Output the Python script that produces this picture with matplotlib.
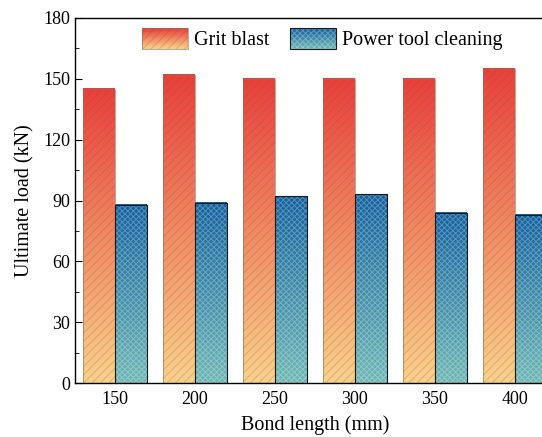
import numpy as np
import matplotlib
matplotlib.use("Agg")
import matplotlib.pyplot as plt
from matplotlib.patches import Rectangle
from matplotlib.legend_handler import HandlerBase
from matplotlib.colors import to_rgb
from matplotlib.ticker import MultipleLocator

plt.rcParams['font.family'] = ['Liberation Serif', 'DejaVu Serif']
plt.rcParams['hatch.linewidth'] = 0.7

# data
bond_length = ['150', '200', '250', '300', '350', '400']
grit_blast = [145, 152, 150, 150, 150, 155]
power_tool = [88, 89, 92, 93, 84, 83]

# colours: (top, bottom)
grit_cols = ('#e8403b', '#f9d28c')
power_cols = ('#11609f', '#6fb8b5')


def grad(top, bottom, n=256):
    t = np.linspace(0, 1, n)[:, None]
    a = np.array(to_rgb(top))
    b = np.array(to_rgb(bottom))
    return (a * (1 - t) + b * t)[:, None, :]


class Key:
    def __init__(self, cols, hatch, hcol, ecol):
        self.cols = cols
        self.hatch = hatch
        self.hcol = hcol
        self.ecol = ecol


class GradHandler(HandlerBase):
    def create_artists(self, legend, h, xd, yd, width, height, fontsize, trans):
        arts = []
        n = 30
        top = np.array(to_rgb(h.cols[0]))
        bot = np.array(to_rgb(h.cols[1]))
        for i in range(n):
            t = i / (n - 1)
            c = bot * (1 - t) + top * t
            r = Rectangle((-xd, -yd + height * i / n), width, height / n + 0.3,
                          facecolor=c, edgecolor='none', transform=trans)
            arts.append(r)
        r = Rectangle((-xd, -yd), width, height, facecolor='none', hatch=h.hatch,
                      edgecolor=h.hcol, linewidth=0, transform=trans)
        arts.append(r)
        r = Rectangle((-xd, -yd), width, height, facecolor='none',
                      edgecolor=h.ecol, linewidth=0.8, transform=trans)
        arts.append(r)
        return arts


fig = plt.figure(figsize=(5.42, 4.37), dpi=100)
ax = fig.add_axes([75 / 542, 54 / 437, 480 / 542, 365 / 437])

x = np.arange(len(bond_length))
w = 0.4

grit_h = (0.6, 0.3, 0.1, 0.25)
grit_e = (0.55, 0.45, 0.4, 0.6)
pow_h = (1, 1, 1, 0.28)
pow_e = '#1a1a1a'


def draw(xpos, vals, cols, hatch, hcol, ecol):
    for xi, v in zip(xpos, vals):
        ax.imshow(grad(*cols), extent=[xi - w / 2, xi + w / 2, 0, v],
                  aspect='auto', zorder=2, interpolation='bilinear')
    ax.bar(xpos, vals, w, facecolor='none', hatch=hatch, edgecolor=hcol,
           linewidth=0, zorder=3)
    ax.bar(xpos, vals, w, facecolor='none', edgecolor=ecol,
           linewidth=0.8, zorder=4)


draw(x - w / 2, grit_blast, grit_cols, '////', grit_h, grit_e)
draw(x + w / 2, power_tool, power_cols, 'xxxxxx', pow_h, pow_e)

ax.set_xlim(-0.5, 5.5)
ax.set_ylim(0, 180)
ax.set_xticks(x)
ax.set_xticklabels(bond_length)
ax.yaxis.set_major_locator(MultipleLocator(30))
ax.yaxis.set_minor_locator(MultipleLocator(15))
ax.tick_params(axis='y', which='major', direction='in', length=5, labelsize=13)
ax.tick_params(axis='y', which='minor', direction='in', length=3)
ax.tick_params(axis='x', length=0, labelsize=13, pad=6)
for s in ax.spines.values():
    s.set_linewidth(1.0)

ax.set_xlabel('Bond length (mm)', fontsize=14.5, labelpad=5)
ax.set_ylabel('Ultimate load (kN)', fontsize=14.5, labelpad=6)

keys = [Key(grit_cols, '////', grit_h, grit_e),
        Key(power_cols, 'xxxxxx', pow_h, pow_e)]
ax.legend(keys, ['Grit blast', 'Power tool cleaning'],
          handler_map={Key: GradHandler()}, ncol=2, frameon=False,
          loc='upper left', bbox_to_anchor=(138 / 542, 1 - 24 / 437),
          bbox_transform=fig.transFigure, fontsize=14.5,
          handlelength=2.3, handleheight=1.25, handletextpad=0.3,
          columnspacing=1.0, borderaxespad=0, borderpad=0.2)

fig.savefig('out.png', dpi=100)
